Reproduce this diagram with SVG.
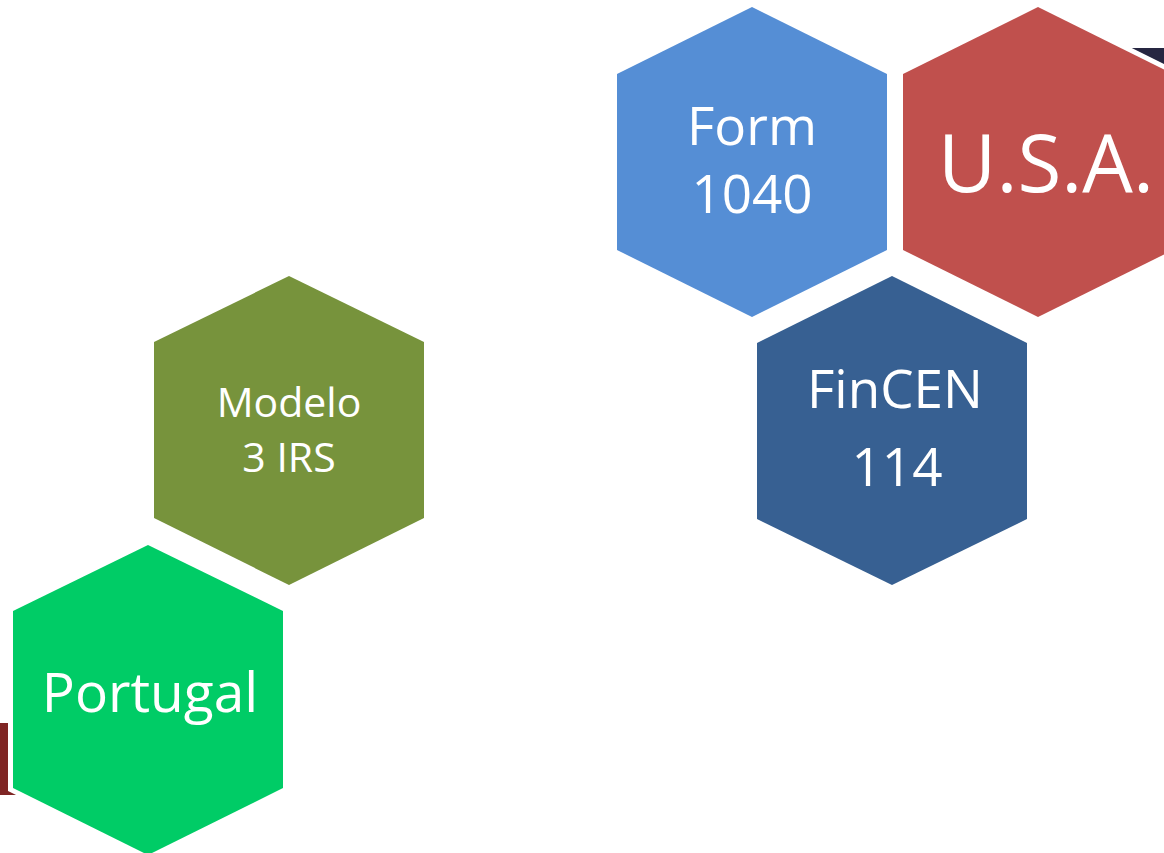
<svg xmlns="http://www.w3.org/2000/svg" width="1164" height="853" viewBox="0 0 1164 853">
<style>
.hex{stroke:#ffffff;stroke-width:10;paint-order:stroke;stroke-linejoin:miter}
.t{font-family:"Open Sans","Noto Sans","Liberation Sans",sans-serif;fill:#ffffff;text-anchor:middle}
</style>
<rect x="0" y="0" width="1164" height="853" fill="#ffffff"/>
<g id="decor">
<rect x="1120" y="48" width="44" height="90" fill="#262641"/>
<rect x="0" y="723" width="22" height="72" fill="#7f2524"/>
</g>
<g id="connectors"/>
<g id="node-form1040">
<polygon class="hex" fill="#558ed5" points="752,7 887,74 887,250 752,317 617,250 617,74"/>
<text class="t" x="752" y="145" font-size="53">Form</text>
<text class="t" x="752" y="213" font-size="53">1040</text>
</g>
<g id="node-usa">
<polygon class="hex" fill="#c0504d" points="1038,7 1173,74 1173,250 1038,317 903,250 903,74"/>
<text class="t" x="1046" y="192" font-size="80">U.S.A.</text>
</g>
<g id="node-fincen">
<polygon class="hex" fill="#376092" points="892,276 1027,343 1027,519 892,585 757,519 757,343"/>
<text class="t" x="895" y="408" font-size="53">FinCEN</text>
<text class="t" x="897" y="486" font-size="53">114</text>
</g>
<g id="node-modelo">
<polygon class="hex" fill="#77933c" points="289,276 424,342 424,518 289,585 154,518 154,342"/>
<text class="t" x="289" y="417" font-size="41">Modelo</text>
<text class="t" x="289" y="472" font-size="41">3 IRS</text>
</g>
<g id="node-portugal">
<polygon class="hex" fill="#00cc66" points="148,545 283,611 283,788 148,855 13,788 13,611"/>
<text class="t" x="150" y="712" font-size="55">Portugal</text>
</g>
</svg>
